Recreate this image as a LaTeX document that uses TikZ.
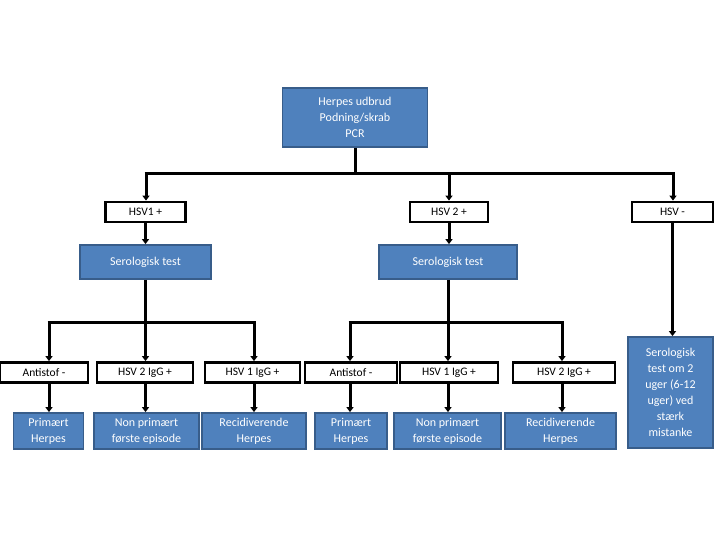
\documentclass[tikz,border=0pt]{standalone}
\usepackage{fontspec}
\setmainfont{Carlito}
\usetikzlibrary{arrows.meta}
\definecolor{boxblue}{HTML}{4F81BD}
\definecolor{boxedge}{HTML}{385D8A}
\tikzset{
  bluebox/.style={draw=boxedge, line width=1.8pt, fill=boxblue, text=white, align=center,
    inner sep=0pt, font=\fontsize{12}{16}\selectfont},
  whitebox/.style={draw=black, line width=2.8pt, fill=white, text=black, align=center,
    inner sep=0pt, minimum height=20pt, font=\fontsize{11.5}{14}\selectfont},
  conn/.style={draw=black, line width=3pt},
  arr/.style={conn, -{Triangle[length=5pt,width=7pt]}}
}
\begin{document}
\begin{tikzpicture}[x=1pt,y=-1pt]
\useasboundingbox (0,0) rectangle (720,540);
% top
\node[bluebox, minimum width=145pt, minimum height=59pt] (top) at (355,117.5) {Herpes udbrud\\Podning/skrab\\PCR};
% second level
\node[whitebox, minimum width=80pt] (hsv1) at (145.5,212) {HSV1 +};
\node[whitebox, minimum width=78pt] (hsv2) at (449,212) {HSV 2 +};
\node[whitebox, minimum width=81pt] (hsvn) at (672.5,212) {HSV -};
% serologisk
\node[bluebox, minimum width=131pt, minimum height=34pt] (sero1) at (145.5,262) {Serologisk test};
\node[bluebox, minimum width=138pt, minimum height=34pt] (sero2) at (448,262) {Serologisk test};
% result boxes
\node[whitebox, minimum width=88pt] (a1) at (44,372.5) {Antistof -};
\node[whitebox, minimum width=96pt] (a2) at (145,372.5) {HSV 2 IgG +};
\node[whitebox, minimum width=95pt] (a3) at (252.5,372.5) {HSV 1 IgG +};
\node[whitebox, minimum width=92pt] (a4) at (351,372.5) {Antistof -};
\node[whitebox, minimum width=98pt] (a5) at (449,372.5) {HSV 1 IgG +};
\node[whitebox, minimum width=102pt] (a6) at (564,372.5) {HSV 2 IgG +};
% bottom
\node[bluebox, minimum width=70pt, minimum height=36pt] (c1) at (48.5,431) {Primært\\Herpes};
\node[bluebox, minimum width=105pt, minimum height=36pt] (c2) at (146.5,431) {Non primært\\første episode};
\node[bluebox, minimum width=104pt, minimum height=36pt] (c3) at (254,431) {Recidiverende\\Herpes};
\node[bluebox, minimum width=72pt, minimum height=36pt] (c4) at (351,431) {Primært\\Herpes};
\node[bluebox, minimum width=107pt, minimum height=36pt] (c5) at (447.5,431) {Non primært\\første episode};
\node[bluebox, minimum width=111pt, minimum height=36pt] (c6) at (560.5,431) {Recidiverende\\Herpes};
\node[bluebox, minimum width=85pt, minimum height=111pt] (last) at (670.5,392.5) {Serologisk\\test om 2\\uger (6-12\\uger) ved\\stærk\\mistanke};
% top bus
\coordinate (tl) at (146,174);
\coordinate (tr) at (673,174);
\coordinate (tm) at (355,174);
\draw[conn] (top.south) -- (tm);
\draw[conn] ([xshift=-1.5pt]tl) -- ([xshift=1.5pt]tr);
\draw[arr] (tl) -- (tl |- hsv1.north);
\draw[arr] (tm -| hsv2.north) -- (hsv2.north);
\draw[arr] (tr) -- (tr |- hsvn.north);
% to serologisk
\draw[arr] (hsv1.south) -- (sero1.north);
\draw[arr] (hsv2.south) -- (sero2.north -| hsv2.south);
\draw[arr] (hsvn.south) -- (last.north -| hsvn.south);
% left bus
\coordinate (l1) at (49,322);
\coordinate (l2) at (145.5,322);
\coordinate (l3) at (254,322);
\draw[conn] (sero1.south) -- (l2);
\draw[conn] ([xshift=-1.5pt]l1) -- ([xshift=1.5pt]l3);
\draw[arr] (l1) -- (l1 |- a1.north);
\draw[arr] (l2) -- (l2 |- a2.north);
\draw[arr] (l3) -- (l3 |- a3.north);
% right bus
\coordinate (r1) at (350,322);
\coordinate (r2) at (448,322);
\coordinate (r3) at (562,322);
\draw[conn] (sero2.south) -- (r2);
\draw[conn] ([xshift=-1.5pt]r1) -- ([xshift=1.5pt]r3);
\draw[arr] (r1) -- (r1 |- a4.north);
\draw[arr] (r2) -- (r2 |- a5.north);
\draw[arr] (r3) -- (r3 |- a6.north);
% to bottom
\draw[arr] (l1 |- a1.south) -- (l1 |- c1.north);
\draw[arr] (l2 |- a2.south) -- (l2 |- c2.north);
\draw[arr] (l3 |- a3.south) -- (l3 |- c3.north);
\draw[arr] (r1 |- a4.south) -- (r1 |- c4.north);
\draw[arr] (r2 |- a5.south) -- (r2 |- c5.north);
\draw[arr] (r3 |- a6.south) -- (r3 |- c6.north);
\end{tikzpicture}
\end{document}
